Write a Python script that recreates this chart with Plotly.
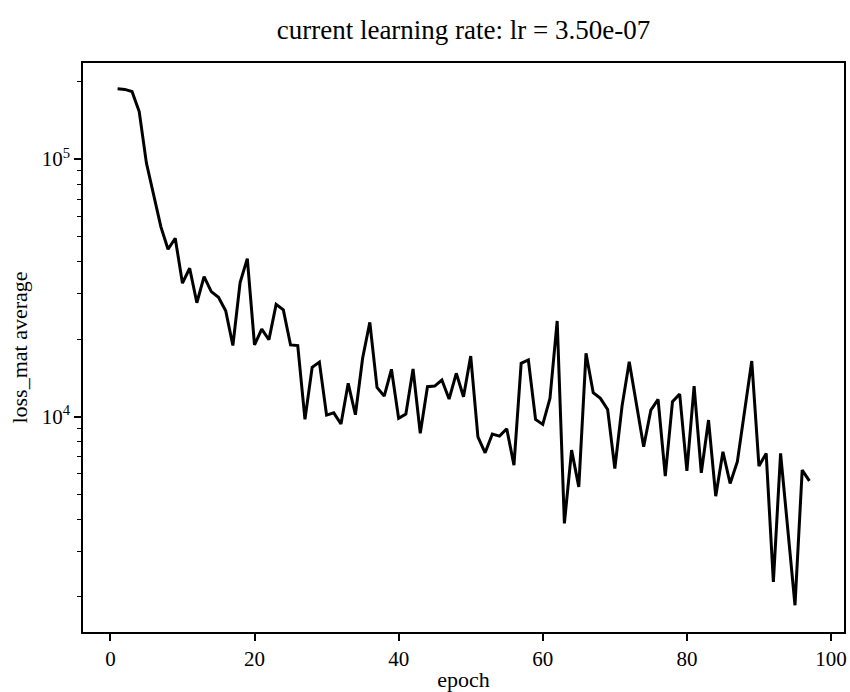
import plotly.graph_objects as go

# Training history: average loss_mat per epoch
epochs = list(range(1, 98))
loss_mat_avg = [
    187500, 186400, 183000, 153000, 96500, 72600, 54700, 44700, 49300, 33000,
    37700, 27700, 35000, 30600, 29100, 25800, 18900, 33200, 41100, 19000,
    21900, 19900, 27300, 26000, 19000, 18900, 9770, 15560, 16300, 10150,
    10360, 9370, 13480, 10180, 16860, 23260, 13010, 12030, 15280, 9860,
    10240, 15320, 8620, 13080, 13160, 13890, 11720, 14750, 11960, 17210,
    8360, 7250, 8570, 8410, 8980, 6490, 16130, 16610, 9770, 9340,
    11790, 23540, 3855, 7425, 5346, 17630, 12400, 11790, 10680, 6300,
    11000, 16360, 11100, 7645, 10620, 11680, 5885, 11440, 12250, 6170,
    13160, 6060, 9710, 4920, 7310, 5510, 6690, 10500, 16460, 6435,
    7206, 2286, 7206, 3660, 1855, 6210, 5640,
]
learning_rate = 3.50e-07

x_ticks = [0, 20, 40, 60, 80, 100]
y_major = [1e4, 1e5]
y_major_text = ["10<sup>4</sup>", "10<sup>5</sup>"]
y_minor = [m * 10 ** d for d in (3, 4, 5) for m in range(2, 10) if 1.4e3 < m * 10 ** d < 2.4e5]

FONT = "Liberation Serif"

fig = go.Figure()
fig.add_trace(go.Scatter(
    x=epochs, y=loss_mat_avg, mode="lines",
    line=dict(color="black", width=3),
    showlegend=False,
))

axis_common = dict(
    showline=True, linecolor="black", linewidth=1.6, mirror=True,
    showgrid=False, zeroline=False, automargin=False,
    ticks="outside", ticklen=7, tickwidth=1.6, tickcolor="black",
    tickfont=dict(family=FONT, size=21, color="black"),
)

fig.update_layout(
    width=850, height=692,
    margin=dict(l=83, r=6, t=63, b=60),
    paper_bgcolor="white", plot_bgcolor="white",
    title=dict(
        text=f"current learning rate: lr = {learning_rate:.2e}",
        font=dict(family=FONT, size=27, color="black"),
        x=0.5, xanchor="center", xref="paper",
        y=1 - 30 / 692, yanchor="middle", yref="container",
    ),
    xaxis=dict(
        **axis_common,
        range=[-3.8, 101.8],
        tickmode="array", tickvals=x_ticks,
        title=dict(text="epoch", font=dict(family=FONT, size=22, color="black"), standoff=3),
    ),
    yaxis=dict(
        **axis_common,
        type="log",
        range=[3.1647, 5.373],
        tickmode="array", tickvals=y_major, ticktext=y_major_text,
        minor=dict(tickmode="array", tickvals=y_minor, ticks="outside",
                   ticklen=4, tickwidth=1.2, tickcolor="black", showgrid=False),
        title=dict(text="loss_mat average", font=dict(family=FONT, size=22, color="black"), standoff=8),
    ),
)

fig.write_html("out.html")
